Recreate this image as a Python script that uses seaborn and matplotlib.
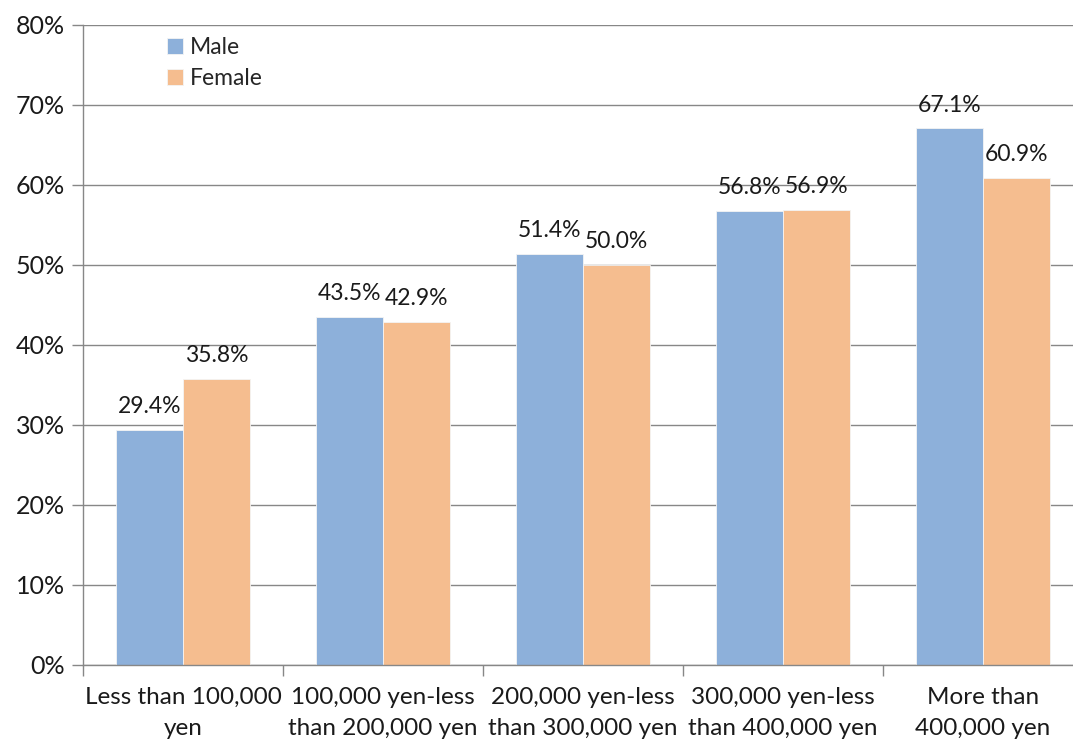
import matplotlib
matplotlib.use("Agg")
import matplotlib.pyplot as plt
import seaborn as sns
import pandas as pd
from matplotlib.ticker import FixedLocator, FuncFormatter

categories = [
    "Less than 100,000\nyen",
    "100,000 yen-less\nthan 200,000 yen",
    "200,000 yen-less\nthan 300,000 yen",
    "300,000 yen-less\nthan 400,000 yen",
    "More than\n400,000 yen",
]
male = [29.4, 43.5, 51.4, 56.8, 67.1]
female = [35.8, 42.9, 50.0, 56.9, 60.9]
series = ["Male", "Female"]
colors = {"Male": "#8DB0DA", "Female": "#F5BD8F"}

df = pd.DataFrame({
    "category": categories * 2,
    "group": ["Male"] * len(categories) + ["Female"] * len(categories),
    "value": male + female,
})

sns.set_theme(style="white")
plt.rcParams["font.family"] = ["Lato", "DejaVu Sans"]

text_color = "#1a1a1a"
fig = plt.figure(figsize=(10.73, 7.44), dpi=100)
ax = fig.add_axes([83 / 1073, 79 / 744, 1000 / 1073, 640 / 744])

sns.barplot(data=df, x="category", y="value", hue="group", hue_order=series,
            palette=colors, width=0.667, saturation=1, ax=ax, legend=True,
            linewidth=0.6, edgecolor="#f4f4f4")

for container in ax.containers:
    ax.bar_label(container, labels=[f"{v:.1f}%" for v in container.datavalues],
                 padding=9, fontsize=16.5, color=text_color)

ax.set_xlim(-0.5, 4.5)
ax.set_ylim(0, 80)
ax.set_yticks(range(0, 81, 10))
ax.yaxis.set_major_formatter(FuncFormatter(lambda v, p: f"{int(v)}%"))
ax.yaxis.grid(True, color="#878787", linewidth=1.0)
ax.set_axisbelow(True)

ax.xaxis.set_minor_locator(FixedLocator([i - 0.5 for i in range(len(categories) + 1)]))
ax.tick_params(axis="x", which="major", length=0, pad=16, labelsize=17.5, labelcolor=text_color)
ax.tick_params(axis="x", which="minor", length=8, width=1, color="#878787", direction="out", bottom=True)
ax.tick_params(axis="y", which="major", length=8, width=1, color="#878787", direction="out",
               left=True, pad=5, labelsize=18, labelcolor=text_color)
for lbl in ax.get_xticklabels():
    lbl.set_linespacing(1.55)

for side in ["top", "right"]:
    ax.spines[side].set_visible(False)
for side in ["left", "bottom"]:
    ax.spines[side].set_color("#878787")
    ax.spines[side].set_linewidth(1.0)

ax.set_xlabel("")
ax.set_ylabel("")

ax.legend(title=None, frameon=False, loc="upper left",
          bbox_to_anchor=(158 / 1073, 1 - 28 / 744), bbox_transform=fig.transFigure,
          handlelength=0.7, handleheight=0.7, handletextpad=0.3,
          labelspacing=0.45, fontsize=16.5, borderaxespad=0)

fig.savefig("out.png", dpi=100)
